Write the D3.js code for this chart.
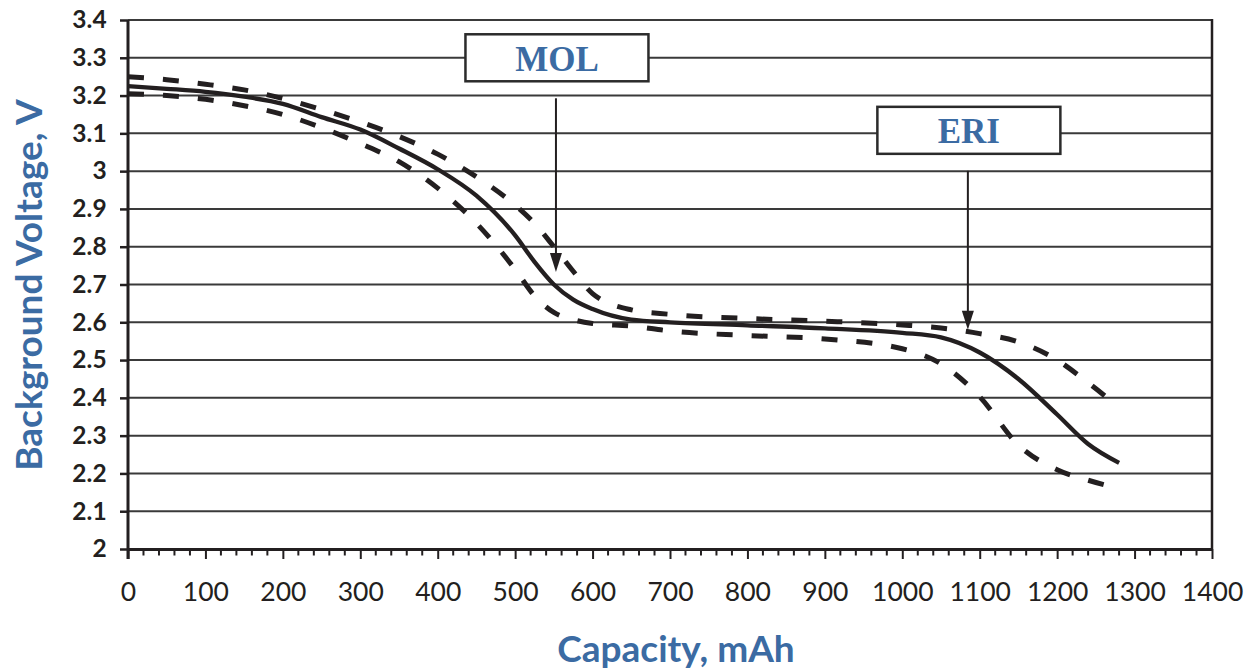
<!DOCTYPE html>
<html>
<head>
<meta charset="utf-8">
<script src="https://cdn.jsdelivr.net/npm/d3@7"></script>
<style>
  html, body { margin: 0; padding: 0; background: #ffffff; }
  svg { display: block; }
</style>
</head>
<body>
<svg id="chart" width="1247" height="671"></svg>
<script>
// ---------------- data ----------------
const capacity = [0, 50, 100, 150, 200, 250, 300, 350, 400, 450, 500, 525, 550, 575, 600, 650, 700, 800, 900, 1000, 1050, 1100, 1150, 1200, 1240, 1280];
const voltageMean = [3.225, 3.218, 3.21, 3.197, 3.178, 3.143, 3.11, 3.06, 3.005, 2.935, 2.83, 2.76, 2.70, 2.66, 2.635, 2.607, 2.60, 2.592, 2.584, 2.572, 2.56, 2.52, 2.45, 2.356, 2.278, 2.228];
const voltageUpper = [3.25, 3.242, 3.23, 3.215, 3.192, 3.163, 3.13, 3.092, 3.045, 2.985, 2.91, 2.862, 2.80, 2.735, 2.676, 2.633, 2.621, 2.61, 2.603, 2.593, 2.585, 2.57, 2.548, 2.50, 2.44, 2.375];
const voltageLower = [3.205, 3.20, 3.19, 3.173, 3.15, 3.115, 3.073, 3.025, 2.955, 2.862, 2.74, 2.67, 2.626, 2.607, 2.597, 2.59, 2.577, 2.565, 2.556, 2.53, 2.49, 2.403, 2.275, 2.21, 2.182, 2.16];

const xTickValues = [0, 100, 200, 300, 400, 500, 600, 700, 800, 900, 1000, 1100, 1200, 1300, 1400];
const xMinorStep = 20;
const yTickValues = [2, 2.1, 2.2, 2.3, 2.4, 2.5, 2.6, 2.7, 2.8, 2.9, 3, 3.1, 3.2, 3.3, 3.4];
const yTickLabels = ["2", "2.1", "2.2", "2.3", "2.4", "2.5", "2.6", "2.7", "2.8", "2.9", "3", "3.1", "3.2", "3.3", "3.4"];

const annotationLabels = ["MOL", "ERI"];
const annotationCapacity = [554, 1086];
const annotationTipVoltage = [2.733, 2.58];
const annotationBoxVoltage = [3.30, 3.108];

const xTitle = "Capacity, mAh";
const yTitle = "Background Voltage, V";

// ---------------- layout ----------------
const ink = "#231f20";
const gridInk = "#3a3a3a";
const blue = "#3b6ba3";
const sans = "Lato, 'Open Sans', sans-serif";
const serif = "'Liberation Serif', 'DejaVu Serif', serif";

const svg = d3.select("#chart");
const x = d3.scaleLinear().domain([0, 1400]).range([128, 1212]);
const y = d3.scaleLinear().domain([2, 3.4]).range([549, 20]);

// grid lines
svg.append("g").selectAll("line")
  .data(yTickValues.filter(v => v > 2))
  .join("line")
  .attr("x1", x(0)).attr("x2", x(1400))
  .attr("y1", d => y(d)).attr("y2", d => y(d))
  .attr("stroke", gridInk).attr("stroke-width", 2);

// right border
svg.append("line")
  .attr("x1", x(1400)).attr("x2", x(1400))
  .attr("y1", y(3.4) - 1).attr("y2", y(2))
  .attr("stroke", ink).attr("stroke-width", 2.5);

// x axis: minor ticks
const minorVals = d3.range(0, 1400 + 1, xMinorStep).filter(v => v % 100 !== 0);
svg.append("g").selectAll("line")
  .data(minorVals).join("line")
  .attr("x1", d => x(d)).attr("x2", d => x(d))
  .attr("y1", y(2)).attr("y2", y(2) + 6.5)
  .attr("stroke", ink).attr("stroke-width", 2);

// x axis via d3 axis (major ticks + labels)
const xAxis = d3.axisBottom(x).tickValues(xTickValues).tickSize(10).tickSizeOuter(0).tickPadding(23).tickFormat(d3.format("d"));
const gx = svg.append("g").attr("transform", `translate(0,${y(2)})`).call(xAxis);
gx.select(".domain").attr("stroke", ink).attr("stroke-width", 3);
gx.selectAll(".tick line").attr("stroke", ink).attr("stroke-width", 2);
gx.selectAll(".tick text")
  .attr("fill", ink).attr("font-family", sans).attr("font-size", 26.5).attr("font-weight", 400)
  .attr("dy", "0.71em");

// y axis
const yAxis = d3.axisLeft(y).tickValues(yTickValues).tickSize(8).tickSizeOuter(0).tickPadding(13)
  .tickFormat((d, i) => yTickLabels[i]);
const gy = svg.append("g").attr("transform", `translate(${x(0)},0)`).call(yAxis);
gy.select(".domain").attr("stroke", ink).attr("stroke-width", 3)
  .attr("d", `M0,${y(3.4)}V${y(2) + 10}`);
gy.selectAll(".tick line").attr("stroke", ink).attr("stroke-width", 2.5);
gy.selectAll(".tick text")
  .attr("fill", ink).attr("font-family", sans).attr("font-size", 24.5).attr("font-weight", 700)
  .attr("letter-spacing", "0.2px");

// curves
const line = vals => d3.line()
  .x((d, i) => x(capacity[i]))
  .y(d => y(d))
  .curve(d3.curveMonotoneX)(vals);

svg.append("path").attr("d", line(voltageUpper))
  .attr("fill", "none").attr("stroke", ink).attr("stroke-width", 5)
  .attr("stroke-dasharray", "16,19");
svg.append("path").attr("d", line(voltageLower))
  .attr("fill", "none").attr("stroke", ink).attr("stroke-width", 5)
  .attr("stroke-dasharray", "16,19");
svg.append("path").attr("d", line(voltageMean))
  .attr("fill", "none").attr("stroke", ink).attr("stroke-width", 4.3)
  .attr("stroke-linejoin", "round");

// annotations
const boxW = 183, boxH = 47;
annotationLabels.forEach((lab, i) => {
  const cx = x(annotationCapacity[i]);
  const cy = y(annotationBoxVoltage[i]);
  const g = svg.append("g");
  g.append("rect")
    .attr("x", cx - boxW / 2).attr("y", cy - boxH / 2)
    .attr("width", boxW).attr("height", boxH)
    .attr("fill", "#ffffff").attr("stroke", "#2b2b2b").attr("stroke-width", 2.5);
  g.append("text")
    .attr("x", cx).attr("y", cy + 13)
    .attr("text-anchor", "middle")
    .attr("font-family", serif).attr("font-size", 35).attr("font-weight", 700)
    .attr("fill", blue)
    .text(lab);
  const top = cy + boxH / 2 + 17;
  const tip = y(annotationTipVoltage[i]);
  g.append("line")
    .attr("x1", cx - 1).attr("x2", cx - 1)
    .attr("y1", top).attr("y2", tip - 10)
    .attr("stroke", ink).attr("stroke-width", 2);
  g.append("path")
    .attr("d", `M${cx - 7},${tip - 19}L${cx + 5},${tip - 19}L${cx - 1},${tip}Z`)
    .attr("fill", ink);
});

// axis titles
svg.append("text")
  .attr("x", 676).attr("y", 662)
  .attr("text-anchor", "middle")
  .attr("font-family", sans).attr("font-size", 37).attr("font-weight", 700)
  .attr("fill", blue)
  .text(xTitle);

svg.append("text")
  .attr("transform", `translate(42,285) rotate(-90)`)
  .attr("text-anchor", "middle")
  .attr("font-family", sans).attr("font-size", 37).attr("font-weight", 700)
  .attr("fill", blue)
  .text(yTitle);
</script>
</body>
</html>
